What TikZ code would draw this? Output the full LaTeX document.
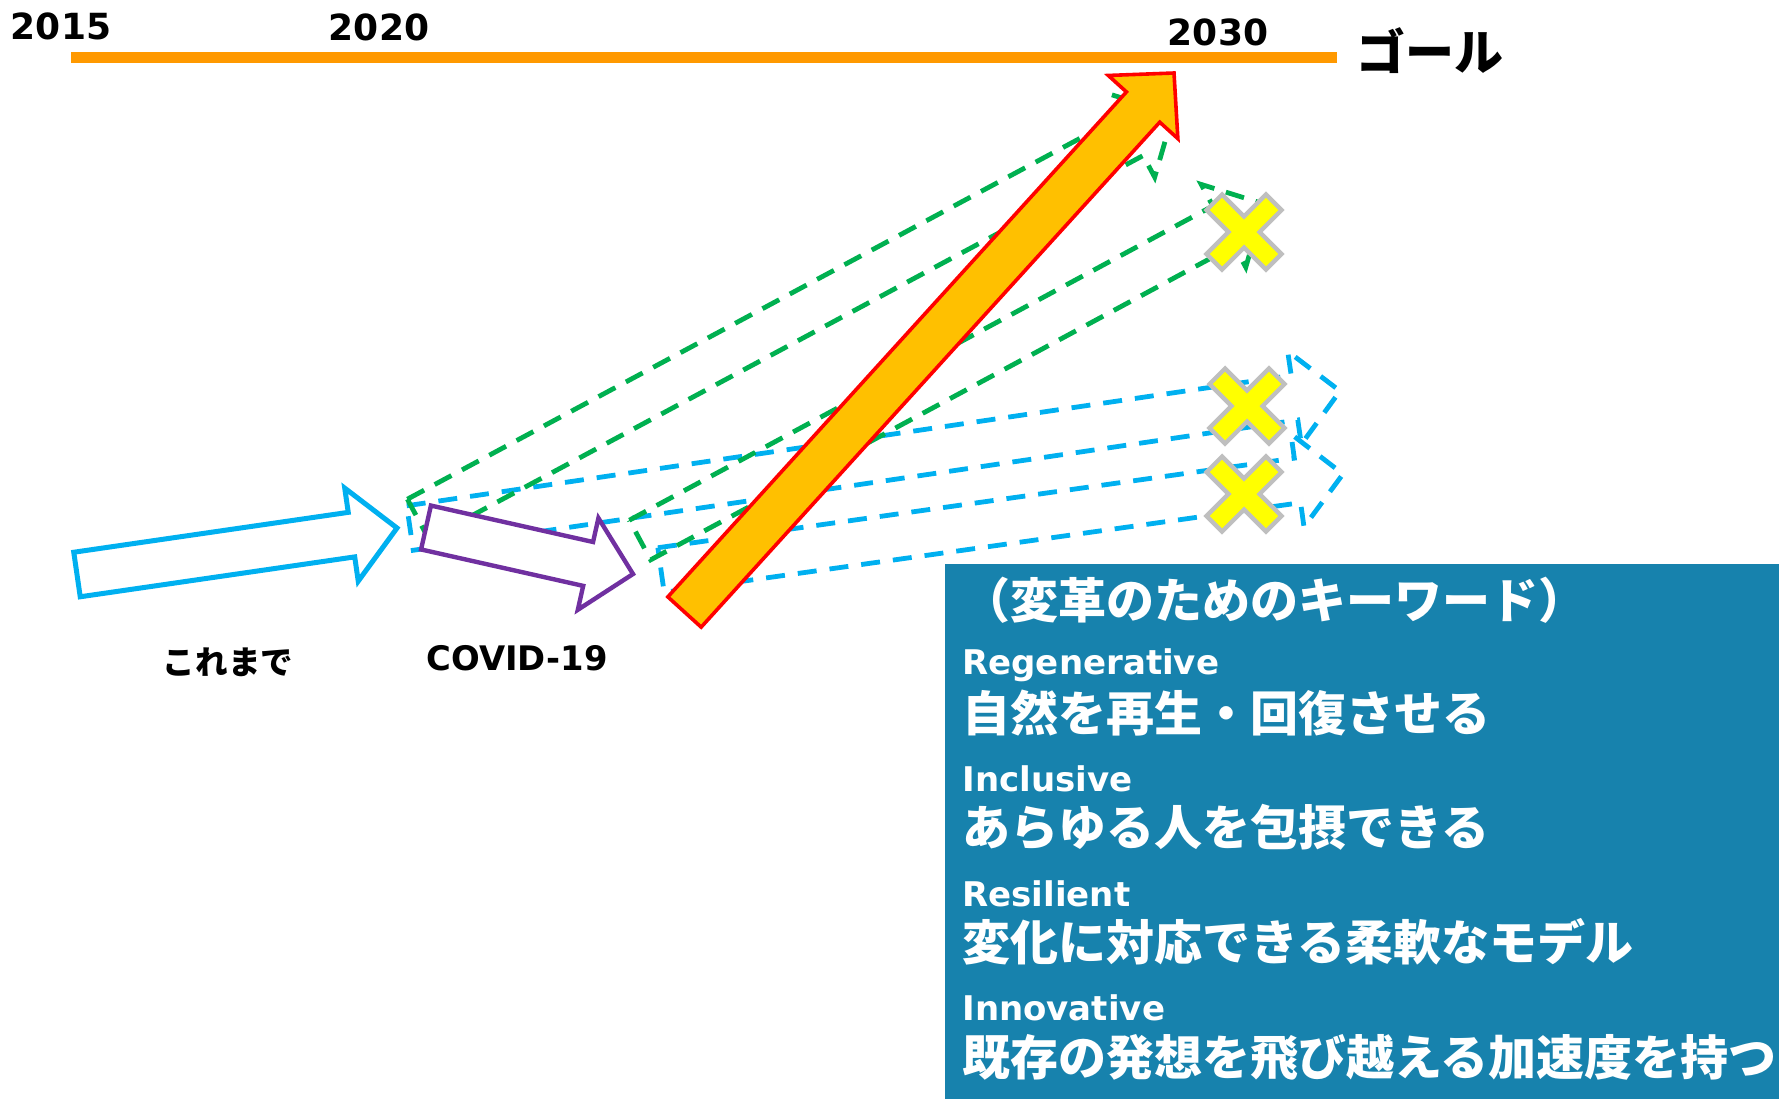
\documentclass[tikz,border=0pt]{standalone}
\usepackage{fontspec}
\newfontfamily\jp{Noto Sans CJK JP}
\newfontfamily\dv{DejaVu Sans}
\usetikzlibrary{calc}
\definecolor{tlorange}{RGB}{255,153,0}
\definecolor{cyanc}{RGB}{0,176,240}
\definecolor{greenc}{RGB}{0,176,80}
\definecolor{purplec}{RGB}{112,48,160}
\definecolor{arrowfill}{RGB}{255,192,0}
\definecolor{boxblue}{RGB}{23,130,173}
\definecolor{xgray}{RGB}{191,191,191}
\definecolor{xyellow}{RGB}{255,255,0}
% block arrow: #1 style, #2 tail centre, #3 tip
\newcommand\blockarrow[3]{%
  \coordinate (ba-end) at ($(#3)!23pt!(#2)$);
  \draw[#1] ($(#2)!11.25pt!90:(#3)$) -- ($(ba-end)!11.25pt!-90:(#2)$)
    -- ($(ba-end)!23.5pt!-90:(#2)$) -- (#3) -- ($(ba-end)!23.5pt!90:(#2)$)
    -- ($(ba-end)!11.25pt!90:(#2)$) -- ($(#2)!11.25pt!-90:(#3)$) -- cycle;}
\tikzset{
  xmark/.pic={\draw[draw=xgray, fill=xyellow, line width=2.2pt, line join=miter]
    (0,-15.6) -- (21.9,-37.5) -- (37.5,-21.9) -- (15.6,0) -- (37.5,21.9) -- (21.9,37.5)
    -- (0,15.6) -- (-21.9,37.5) -- (-37.5,21.9) -- (-15.6,0) -- (-37.5,-21.9) -- (-21.9,-37.5) -- cycle;}
}
\begin{document}
\begin{tikzpicture}[x={(0.5pt,0)}, y={(0,-0.5pt)},
  dashg/.style={draw=greenc, line width=2.4pt, dash pattern=on 9.5pt off 6pt, line join=miter},
  dashb/.style={draw=cyanc, line width=2.4pt, dash pattern=on 9.5pt off 6.5pt, line join=miter},
  cyanarrow/.style={draw=cyanc, fill=white, line width=2.5pt, line join=miter},
  purplearrow/.style={draw=purplec, fill=white, line width=2.2pt, line join=miter},
  goalarrow/.style={draw=red, fill=arrowfill, line width=1.8pt, line join=miter},
  year/.style={inner sep=0pt, font=\dv\bfseries\fontsize{18pt}{20pt}\selectfont},
  lbl/.style={inner sep=0pt},
  kwjp/.style={inner sep=0pt, anchor=base west, text=white, font=\jp\bfseries\fontsize{24pt}{28pt}\selectfont},
  kwen/.style={inner sep=0pt, anchor=base west, text=white, font=\dv\bfseries\fontsize{17pt}{20pt}\selectfont},
  tl/.style={draw=tlorange, line width=5.5pt}
]
\useasboundingbox (0,0) rectangle (1779,1099);

% timeline
\coordinate (tlL) at (71,57);
\coordinate (tlR) at (1337,57);
\draw[tl] (tlL) -- (tlR);
\node[year] (y2015) at (61,26) {2015};
\node[year] (y2020) at (379,27.5) {2020};
\node[year] (y2030) at (1218,32) {2030};
\node[lbl, font=\jp\bfseries\fontsize{24.5pt}{28pt}\selectfont] (goal) at (1430,51) {ゴール};

% arrow end points
\coordinate (g1T) at (418,519);   \coordinate (g1P) at (1173,114);
\coordinate (g2T) at (640,540);   \coordinate (g2P) at (1264,204);
\coordinate (b1T) at (410,528);   \coordinate (b1P) at (1340,391);
\coordinate (b2T) at (661,570);   \coordinate (b2P) at (1343,474);
\coordinate (cyT) at (77,574.5);  \coordinate (cyP) at (397,528);
\coordinate (puT) at (426,527.5); \coordinate (puP) at (633,574);
\coordinate (orT) at (684.5,612); \coordinate (orP) at (1174,73);

% dashed pathways
\blockarrow{dashb}{b1T}{b1P}
\blockarrow{dashb}{b2T}{b2P}
\blockarrow{dashg}{g1T}{g1P}
\blockarrow{dashg}{g2T}{g2P}

% solid arrows
\blockarrow{cyanarrow}{cyT}{cyP}
\blockarrow{purplearrow}{puT}{puP}
\blockarrow{goalarrow}{orT}{orP}

% crosses
\pic at (1244,232) {xmark};
\pic at (1247,406) {xmark};
\pic at (1244,494) {xmark};

% labels
\node[lbl, font=\jp\bfseries\fontsize{16.3pt}{18pt}\selectfont] (past) at (228,662) {これまで};
\node[lbl, font=\dv\bfseries\fontsize{16.9pt}{18pt}\selectfont] (covid) at (517,658) {COVID-19};

% keyword box
\fill[boxblue] (945,564) rectangle (1779,1099);
\node[kwjp] (kwt) at (962,618) {（変革のためのキーワード）};
\node[kwen] (k1e) at (962,674) {Regenerative};
\node[kwjp] (k1j) at (962,731) {自然を再生・回復させる};
\node[kwen] (k2e) at (962,791) {Inclusive};
\node[kwjp] (k2j) at (962,845) {あらゆる人を包摂できる};
\node[kwen] (k3e) at (962,906) {Resilient};
\node[kwjp] (k3j) at (962,960) {変化に対応できる柔軟なモデル};
\node[kwen] (k4e) at (962,1020) {Innovative};
\node[kwjp] (k4j) at (962,1075) {既存の発想を飛び越える加速度を持つ};
\end{tikzpicture}
\end{document}
